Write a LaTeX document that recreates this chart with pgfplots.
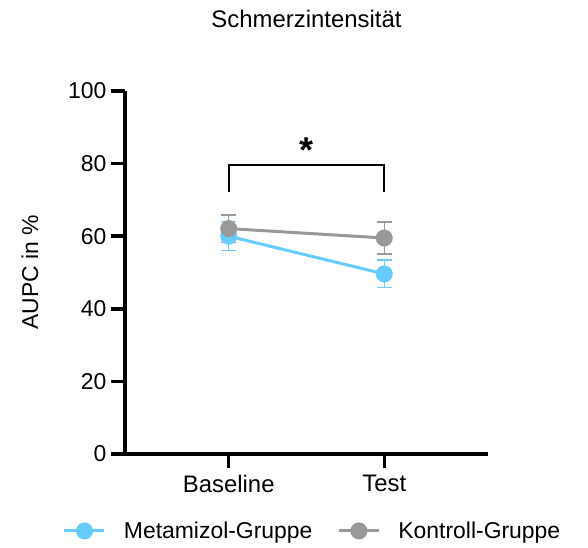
\documentclass[border=0pt]{standalone}
\usepackage{pgfplots}
\pgfplotsset{compat=1.18}
\usepackage{fontspec}
\setmainfont{Liberation Sans}

\definecolor{metablue}{HTML}{66CCFF}
\definecolor{kontgray}{HTML}{999999}

\begin{document}
\begin{tikzpicture}
\useasboundingbox (0,0) rectangle (588bp,548bp);
\begin{axis}[
    at={(125bp,94bp)}, anchor=south west,
    scale only axis,
    width=363bp, height=363bp,
    xmin=-0.667, xmax=1.667,
    ymin=0, ymax=100,
    clip=false,
    axis lines=left,
    axis line style={-, line width=3.5bp},
    xtick={0,1},
    xticklabels={Baseline, Test},
    ytick={0,20,...,100},
    tick align=outside,
    major tick length=14bp,
    tick style={line width=3.5bp, black},
    /pgf/number format/assume math mode=true,
    tick label style={font=\fontsize{23}{27}\selectfont},
    xticklabel style={yshift=-4bp, font=\fontsize{24}{28}\selectfont},
    yticklabel style={xshift=-1bp},
    title={Schmerzintensität},
    title style={at={(axis description cs:0.5,1.182)}, anchor=center, font=\fontsize{24}{28}\selectfont},
    ylabel={AUPC in \%},
    ylabel style={at={(axis description cs:-0.262,0.5)}, anchor=center, font=\fontsize{23}{27}\selectfont},
    legend columns=2,
    legend style={
        at={(axis description cs:0.514,-0.212)}, anchor=center,
        draw=none, fill=none,
        font=\fontsize{23}{27}\selectfont,
        nodes={inner sep=0bp, anchor=west},
        /tikz/every odd column/.append style={column sep=18bp},
        /tikz/every even column/.append style={column sep=25bp},
    },
    legend image code/.code={
        \draw[mark repeat=2, mark phase=2, #1] plot coordinates {(0bp,0bp) (20bp,0bp) (40bp,0bp)};
    },
    error bars/y dir=both,
    error bars/y explicit,
    error bars/error mark options={rotate=90, mark size=7.5bp, line width=1.5bp},
    error bars/error bar style={line width=1.5bp},
]
\addplot[color=metablue, line width=3bp, mark=*, mark size=7bp,
    mark options={solid, fill=metablue, draw=metablue}]
    coordinates {
        (0,60.0) +- (0,4.0)
        (1,49.6) +- (0,3.8)
    };
\addlegendentry{Metamizol-Gruppe}
\addplot[color=kontgray, line width=3bp, mark=*, mark size=7bp,
    mark options={solid, fill=kontgray, draw=kontgray}]
    coordinates {
        (0,62.1) +- (0,3.8)
        (1,59.5) +- (0,4.4)
    };
\addlegendentry{Kontroll-Gruppe}
% significance bracket
\addplot[black, line width=2bp, forget plot, no marks, error bars/y dir=none]
    coordinates {(0,72.2) (0,79.6) (1,79.6) (1,72.2)};
\node[font=\fontsize{36}{36}\selectfont\bfseries, anchor=center] at (axis cs:0.5,83.8) {*};
\end{axis}
\end{tikzpicture}
\end{document}
